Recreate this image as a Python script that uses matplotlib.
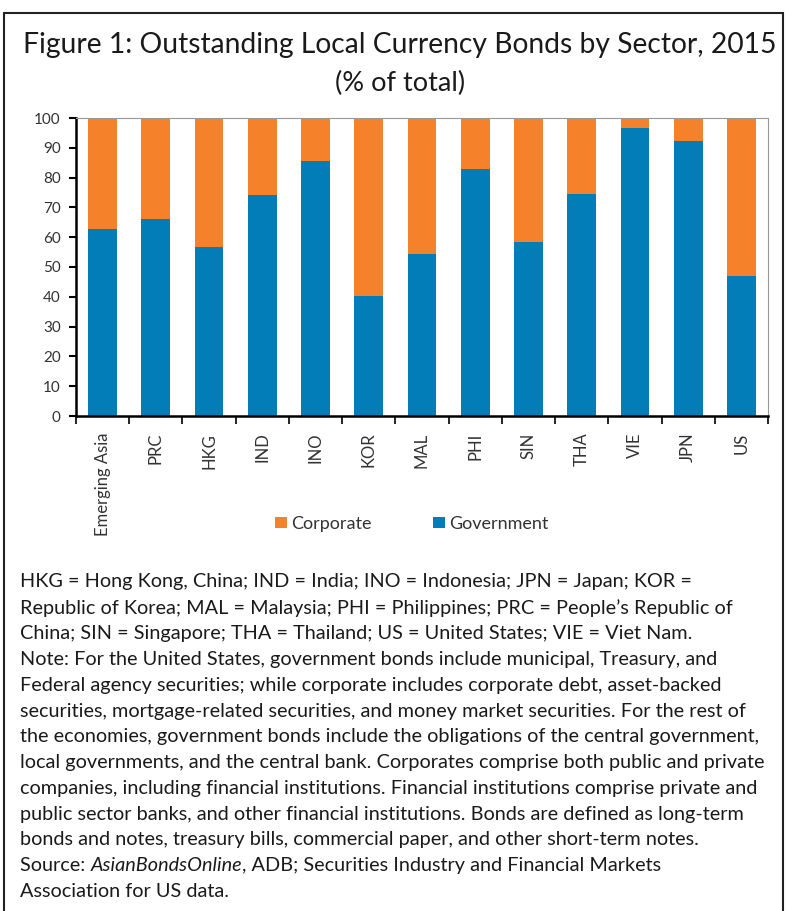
import numpy as np
import matplotlib.pyplot as plt
from matplotlib.patches import Rectangle

plt.rcParams['font.family'] = ['Lato', 'DejaVu Sans']

economies = ['Emerging Asia', 'PRC', 'HKG', 'IND', 'INO', 'KOR', 'MAL', 'PHI',
             'SIN', 'THA', 'VIE', 'JPN', 'US']
government = [62.7, 66.0, 56.8, 74.1, 85.7, 40.4, 54.4, 83.0, 58.4, 74.6, 96.8, 92.4, 47.1]
corporate = [100 - g for g in government]

blue = '#027db8'
orange = '#f5822a'

notes = [
    "HKG = Hong Kong, China; IND = India; INO = Indonesia; JPN = Japan; KOR =",
    "Republic of Korea; MAL = Malaysia; PHI = Philippines; PRC = People\u2019s Republic of",
    "China; SIN = Singapore; THA = Thailand; US = United States; VIE = Viet Nam.",
    "Note: For the United States, government bonds include municipal, Treasury, and",
    "Federal agency securities; while corporate includes corporate debt, asset-backed",
    "securities, mortgage-related securities, and money market securities. For the rest of",
    "the economies, government bonds include the obligations of the central government,",
    "local governments, and the central bank. Corporates comprise both public and private",
    "companies, including financial institutions. Financial institutions comprise private and",
    "public sector banks, and other financial institutions. Bonds are defined as long-term",
    "bonds and notes, treasury bills, commercial paper, and other short-term notes.",
]

W, H = 787, 911
fig = plt.figure(figsize=(W / 100, H / 100), dpi=100)
txt = '#1a1a1a'
fs_note = 14.3

# outer frame
fig.patches.append(Rectangle((4 / W, -0.01), 779 / W, (H - 13) / H + 0.01,
                             transform=fig.transFigure, fill=False,
                             edgecolor='#222222', linewidth=1.5))

fig.text(400 / W, 1 - 45 / H, 'Figure 1: Outstanding Local Currency Bonds by Sector, 2015',
         ha='center', va='center', fontsize=20.3, color=txt)
fig.text(400 / W, 1 - 83 / H, '(% of total)', ha='center', va='center',
         fontsize=19.5, color=txt)

ax = fig.add_axes([76 / W, (H - 416) / H, (768 - 76) / W, (416 - 118) / H])
x = np.arange(len(economies))
ax.bar(x, government, width=0.54, color=blue, label='Government')
ax.bar(x, corporate, width=0.54, bottom=government, color=orange, label='Corporate')

ax.set_xlim(-0.5, len(economies) - 0.5)
ax.set_ylim(0, 100)
ax.set_yticks(range(0, 101, 10))
ax.tick_params(axis='y', labelsize=11, length=5, width=1.5, direction='out', pad=6,
               labelcolor='#333333')
ax.set_xticks(x)
ax.set_xticklabels(economies, rotation=90, fontsize=12, color='#333333')
ax.tick_params(axis='x', length=0, pad=12)
ax.set_xticks(np.arange(-0.5, len(economies), 1), minor=True)
ax.tick_params(axis='x', which='minor', length=6, width=1.2, direction='out')

ax.spines['left'].set_linewidth(1.8)
ax.spines['bottom'].set_linewidth(1.8)
ax.spines['top'].set_color('#999999')
ax.spines['right'].set_color('#999999')

handles, labels = ax.get_legend_handles_labels()
fig.legend(handles[::-1], labels[::-1], loc='center', bbox_to_anchor=(412 / W, 1 - 524 / H),
           ncol=2, frameon=False, fontsize=13, handlelength=0.65, handleheight=0.6,
           handletextpad=0.25, columnspacing=3.4, labelcolor='#333333')

y0 = 582
step = 25.8
for i, line in enumerate(notes):
    fig.text(20 / W, 1 - (y0 + i * step) / H, line, ha='left', va='center',
             fontsize=fs_note, color=txt)

# source line with italic part
ys = 1 - (y0 + len(notes) * step) / H
t1 = fig.text(20 / W, ys, 'Source: ', ha='left', va='center', fontsize=fs_note, color=txt)
t2 = plt.annotate('AsianBondsOnline', xy=(1, 0), xycoords=t1, va='bottom', ha='left',
                  fontsize=fs_note, style='italic', color=txt, annotation_clip=False)
plt.annotate(', ADB; Securities Industry and Financial Markets', xy=(1, 0), xycoords=t2,
             va='bottom', ha='left', fontsize=fs_note, color=txt, annotation_clip=False)
fig.text(20 / W, 1 - (y0 + (len(notes) + 1) * step) / H, 'Association for US data.',
         ha='left', va='center', fontsize=fs_note, color=txt)

fig.savefig('out.png', dpi=100)
